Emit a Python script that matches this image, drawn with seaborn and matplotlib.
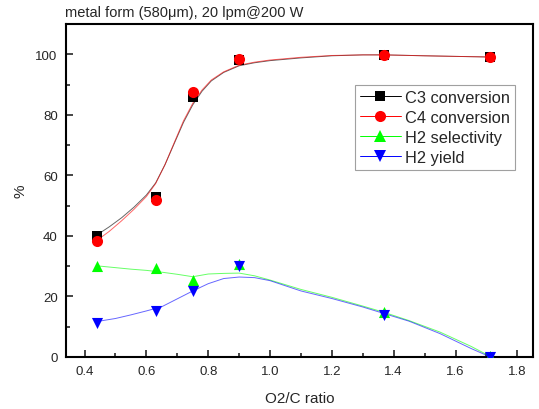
import numpy as np
import pandas as pd
import matplotlib
matplotlib.use('Agg')
import matplotlib.pyplot as plt
import seaborn as sns
from matplotlib.lines import Line2D

## Dados
razao = [0.44, 0.63, 0.75, 0.90, 1.37, 1.71]
c3_conv = [40.0, 52.8, 86.0, 98.2, 99.8, 99.1]
c4_conv = [38.3, 51.8, 87.6, 98.5, 99.8, 99.1]
h2_sel = [30.0, 29.3, 25.4, 30.7, 15.0, 0.2]
h2_yield = [11.3, 15.2, 21.9, 29.9, 14.0, 0.0]

# curvas ajustadas
x_fit_c = [0.44, 0.48, 0.52, 0.56, 0.60, 0.63, 0.66, 0.69, 0.72, 0.75, 0.78,
           0.81, 0.85, 0.90, 0.95, 1.00, 1.10, 1.20, 1.30, 1.37, 1.50, 1.60, 1.71]
c3_fit = [40.3, 43.0, 46.0, 49.5, 53.5, 57.5, 63.5, 70.5, 77.5, 83.3, 87.8,
          91.2, 94.0, 96.2, 97.2, 97.9, 98.8, 99.5, 99.8, 99.8, 99.5, 99.3, 99.1]
c4_fit = [38.5, 41.5, 45.0, 48.8, 53.0, 57.3, 63.5, 70.8, 78.0, 83.8, 88.2,
          91.5, 94.2, 96.4, 97.4, 98.1, 99.0, 99.6, 99.8, 99.8, 99.5, 99.3, 99.1]

x_fit_h = [0.44, 0.50, 0.55, 0.60, 0.65, 0.70, 0.75, 0.80, 0.85, 0.90,
           0.95, 1.00, 1.10, 1.20, 1.30, 1.37, 1.45, 1.55, 1.65, 1.71]
sel_fit = [30.1, 29.5, 29.0, 28.6, 28.0, 27.3, 26.5, 27.4, 27.6, 27.7,
           26.8, 25.4, 22.3, 19.7, 16.8, 14.7, 12.0, 8.2, 3.5, 0.3]
yield_fit = [11.7, 12.7, 13.9, 15.2, 16.6, 19.2, 21.8, 24.2, 25.9, 26.4,
             26.2, 25.2, 21.8, 19.3, 16.5, 14.3, 11.8, 7.7, 2.8, 0.1]

series = [
    ('C3 conversion', c3_conv, x_fit_c, c3_fit, 'black', 's', 7),
    ('C4 conversion', c4_conv, x_fit_c, c4_fit, 'red', 'o', 8),
    ('H2 selectivity', h2_sel, x_fit_h, sel_fit, '#00ff00', '^', 8),
    ('H2 yield', h2_yield, x_fit_h, yield_fit, 'blue', 'v', 8),
]

sns.set_style('white')
plt.rcParams['font.family'] = ['Liberation Sans', 'DejaVu Sans']

fig = plt.figure(figsize=(5.39, 4.10), dpi=100)
ax = fig.add_axes([0.1225, 0.127, 0.866, 0.812])

handles = []
for nome, pontos, xs, ajuste, cor, marcador, tam in series:
    sns.lineplot(x=xs, y=ajuste, color=cor, linewidth=0.7, alpha=0.6, ax=ax)
    sns.scatterplot(x=razao, y=pontos, color=cor, marker=marcador, s=tam ** 2,
                    edgecolor=cor, linewidth=0, ax=ax, zorder=3)
    handles.append(Line2D([0], [0], color=cor, linewidth=0.7, marker=marcador,
                          markersize=tam, markeredgewidth=0, label=nome))

ax.set_xlim(0.34, 1.85)
ax.set_ylim(0, 110)
ax.set_xticks(np.arange(0.4, 1.81, 0.2))
ax.set_xticks(np.arange(0.5, 1.81, 0.2), minor=True)
ax.set_yticks(np.arange(0, 101, 20))
ax.set_yticks(np.arange(10, 101, 20), minor=True)
ax.set_xticklabels(['0.4', '0.6', '0.8', '1.0', '1.2', '1.4', '1.6', '1.8'])
ax.tick_params(which='major', direction='in', length=5, width=1.2, labelsize=9.5,
               bottom=True, left=True, pad=6)
ax.tick_params(which='minor', direction='in', length=3, width=1.2,
               bottom=True, left=True)
for s in ax.spines.values():
    s.set_linewidth(1.5)
    s.set_color('black')

ax.set_xlabel('O2/C ratio', fontsize=11, labelpad=10)
ax.set_ylabel('%', fontsize=11, labelpad=6)
fig.text(0.12, 0.968, 'metal form (580\u03bcm), 20 lpm@200 W', fontsize=10.5, va='center')

leg = ax.legend(handles=handles, loc='upper left', bbox_to_anchor=(0.619, 0.817),
                fontsize=11.8, frameon=True, fancybox=False, handlelength=2.5,
                handletextpad=0.25, borderpad=0.3, labelspacing=0.3, borderaxespad=0)
leg.get_frame().set_edgecolor('#888888')
leg.get_frame().set_linewidth(0.8)

fig.savefig('out.png', dpi=100)
